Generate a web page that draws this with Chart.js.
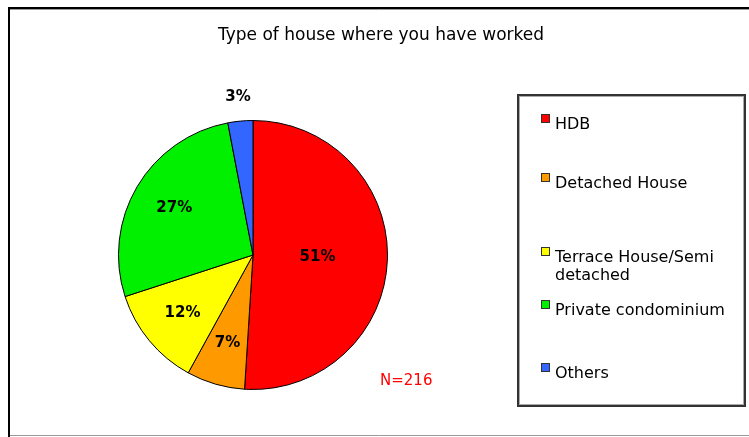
<!DOCTYPE html>
<html>
<head>
<meta charset="utf-8">
<script src="https://cdn.jsdelivr.net/npm/chart.js@4/dist/chart.umd.min.js"></script>
<style>
  html, body { margin: 0; padding: 0; background: #fff; }
  #wrap { position: relative; width: 749px; height: 437px; }
</style>
</head>
<body>
<div id="wrap"><canvas id="c" width="749" height="437"></canvas></div>
<script>
const categories = ["HDB", "Detached House", "Terrace House/Semi detached", "Private condominium", "Others"];
const legendLines = [["HDB"], ["Detached House"], ["Terrace House/Semi", "detached"], ["Private condominium"], ["Others"]];
const values = [51, 7, 12, 27, 3];
const colors = ["#FF0000", "#FF9900", "#FFFF00", "#00F000", "#3366FF"];
const titleText = "Type of house where you have worked";
const noteText = "N=216";

const decor = {
  id: "decor",
  beforeDraw(chart) {
    const ctx = chart.ctx;
    ctx.save();
    ctx.fillStyle = "#fff";
    ctx.fillRect(0, 0, chart.width, chart.height);
    // outer frame
    ctx.strokeStyle = "#000";
    ctx.lineWidth = 2;
    ctx.beginPath();
    ctx.moveTo(749, 8); ctx.lineTo(9, 8); ctx.lineTo(9, 437);
    ctx.stroke();
    ctx.strokeStyle = "#999";
    ctx.lineWidth = 1;
    ctx.beginPath();
    ctx.moveTo(10, 9.5); ctx.lineTo(749, 9.5);
    ctx.moveTo(10, 435.5); ctx.lineTo(749, 435.5);
    ctx.stroke();
    ctx.restore();
  },
  afterDraw(chart) {
    const ctx = chart.ctx;
    ctx.save();
    // title
    ctx.fillStyle = "#000";
    ctx.font = "17px 'DejaVu Sans'";
    ctx.textAlign = "center";
    ctx.textBaseline = "alphabetic";
    ctx.fillText(titleText, 381, 40);

    // pie labels
    const meta = chart.getDatasetMeta(0);
    ctx.font = "bold 15px 'DejaVu Sans'";
    ctx.textBaseline = "middle";
    meta.data.forEach((arc, i) => {
      const p = arc.getProps(["x", "y", "startAngle", "endAngle", "outerRadius"], true);
      const mid = (p.startAngle + p.endAngle) / 2;
      const v = values[i];
      let d;
      if (v < 5) d = p.outerRadius + 24;
      else if (v > 40) d = p.outerRadius * 0.48;
      else d = p.outerRadius * 0.68;
      const x = p.x + Math.cos(mid) * d;
      const y = p.y + Math.sin(mid) * d;
      ctx.fillStyle = "#000";
      ctx.fillText(v + "%", x, y);
    });

    // N note
    ctx.fillStyle = "#FF0000";
    ctx.font = "15px 'DejaVu Sans'";
    ctx.textAlign = "left";
    ctx.textBaseline = "alphabetic";
    ctx.fillText(noteText, 380, 385);

    // legend box
    const bx = 518, by = 95, bw = 227, bh = 311;
    ctx.strokeStyle = "#333";
    ctx.lineWidth = 2;
    ctx.strokeRect(bx, by, bw, bh);
    ctx.strokeStyle = "#aaa";
    ctx.lineWidth = 1;
    ctx.strokeRect(bx + 1.5, by + 1.5, bw - 3, bh - 3);

    const baselines = [34, 93, 167, 220, 283];
    ctx.font = "16px 'DejaVu Sans'";
    ctx.textAlign = "left";
    legendLines.forEach((lines, i) => {
      const base = by + baselines[i];
      // marker
      ctx.fillStyle = colors[i];
      ctx.fillRect(542, base - 14, 7, 7);
      ctx.strokeStyle = "#333";
      ctx.lineWidth = 1;
      ctx.strokeRect(541.5, base - 14.5, 8, 8);
      ctx.fillStyle = "#000";
      lines.forEach((ln, j) => {
        ctx.fillText(ln, 555, base + j * 18);
      });
    });
    ctx.restore();
  }
};

new Chart(document.getElementById("c"), {
  type: "pie",
  data: {
    labels: categories,
    datasets: [{
      data: values,
      backgroundColor: colors,
      borderColor: "#000",
      borderWidth: 1
    }]
  },
  options: {
    responsive: false,
    animation: false,
    layout: { padding: { left: 118, right: 361, top: 120, bottom: 47 } },
    plugins: {
      legend: { display: false },
      title: { display: false },
      tooltip: { enabled: false }
    }
  },
  plugins: [decor]
});
</script>
</body>
</html>
